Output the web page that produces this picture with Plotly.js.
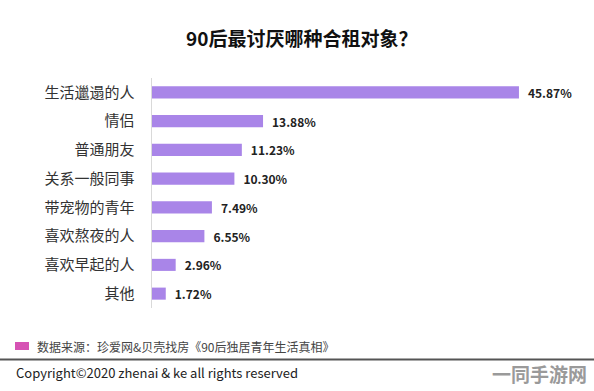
<!DOCTYPE html>
<html><head><meta charset="utf-8">
<script src="https://cdn.plot.ly/plotly-3.0.1.min.js"></script>
<style>html,body{margin:0;padding:0;background:#fff}#c{width:594px;height:391px}</style>
</head><body><div id="c"></div>
<script>
const categories = ["生活邋遢的人","情侣","普通朋友","关系一般同事","带宠物的青年","喜欢熬夜的人","喜欢早起的人","其他"];
const values = [45.87, 13.88, 11.23, 10.30, 7.49, 6.55, 2.96, 1.72];
const titleText = "90后最讨厌哪种合租对象？";
const sourceText = "数据来源：珍爱网&贝壳找房《90后独居青年生活真相》";
const copyrightText = "Copyright©2020 zhenai & ke all rights reserved";
const watermarkText = "一同手游网";

const FONT = '"Noto Sans CJK SC", "Noto Sans", sans-serif';
const W = 594, H = 391, L = 152, R = 2, T = 78, B = 83;
const pw = W - L - R, ph = H - T - B;
const px = x => (x - L) / pw;
const py = y => (H - B - y) / ph;

const trace = {
  type: 'bar', orientation: 'h',
  x: values, y: categories,
  marker: {color: '#a985e8'},
  width: 0.42,
  text: values.map(v => '\u2002' + v.toFixed(2) + '%'),
  textposition: 'outside',
  constraintext: 'none',
  textfont: {family: FONT, size: 12, color: '#222', weight: 'bold'},
  cliponaxis: false,
  hoverinfo: 'none'
};

const layout = {
  width: W, height: H,
  margin: {l: L, r: R, t: T, b: B, pad: 0},
  paper_bgcolor: '#fff', plot_bgcolor: '#fff',
  showlegend: false,
  font: {family: FONT, color: '#333'},
  xaxis: {range: [0, 55], visible: false, fixedrange: true},
  yaxis: {
    autorange: 'reversed', showline: true, linecolor: '#d9d9d9', linewidth: 1.5,
    showgrid: false, zeroline: false,
    ticks: 'outside', ticklen: 13, tickcolor: 'rgba(0,0,0,0)',
    tickfont: {family: FONT, size: 15, color: '#333'}
  },
  shapes: [
    {type: 'rect', xref: 'paper', yref: 'paper', x0: px(15), x1: px(29), y0: py(350), y1: py(342),
     fillcolor: '#d653b4', line: {width: 0}},
    {type: 'line', xref: 'paper', yref: 'paper', x0: px(0), x1: px(594), y0: py(359.5), y1: py(359.5),
     line: {color: '#555', width: 2}}
  ],
  annotations: [
    {text: '<b>' + titleText + '</b>', xref: 'paper', yref: 'paper', x: px(301), y: py(38),
     xanchor: 'center', yanchor: 'middle', showarrow: false,
     font: {family: FONT, size: 19, color: '#111'}},
    {text: sourceText, xref: 'paper', yref: 'paper', x: px(35), y: py(346),
     xanchor: 'left', yanchor: 'middle', showarrow: false,
     font: {family: FONT, size: 12, color: '#444'}},
    {text: copyrightText, xref: 'paper', yref: 'paper', x: px(14), y: py(372),
     xanchor: 'left', yanchor: 'middle', showarrow: false,
     font: {family: FONT, size: 13, color: '#222'}},
    {text: '<b>' + watermarkText + '</b>', xref: 'paper', yref: 'paper', x: px(589), y: py(373),
     xanchor: 'right', yanchor: 'middle', showarrow: false,
     font: {family: FONT, size: 19, color: '#9a9a9a'}}
  ]
};

Plotly.newPlot('c', [trace], layout, {displayModeBar: false, staticPlot: true});
</script>
</body></html>
